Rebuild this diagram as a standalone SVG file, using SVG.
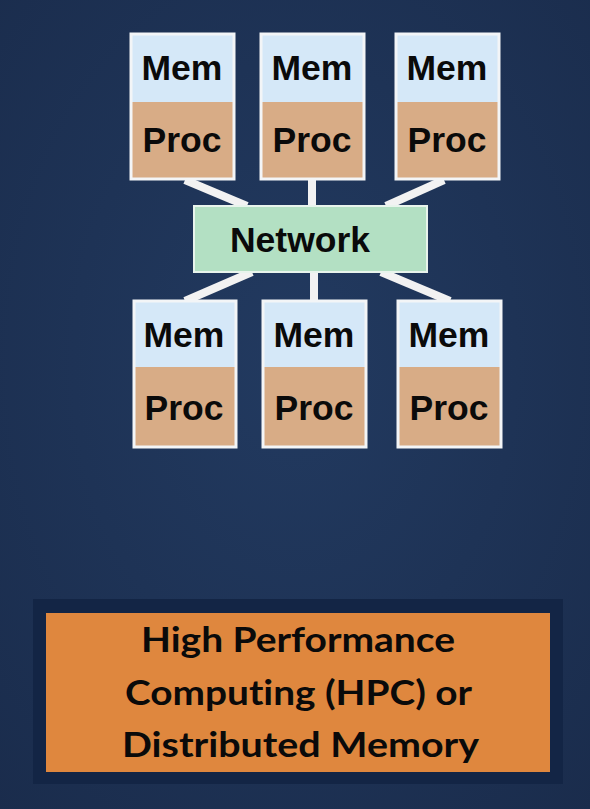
<svg xmlns="http://www.w3.org/2000/svg" width="590" height="809" viewBox="0 0 590 809">
<defs>
<radialGradient id="bg" cx="0.5" cy="0.45" r="0.75">
<stop offset="0" stop-color="#223a60"/>
<stop offset="1" stop-color="#1a2c4c"/>
</radialGradient>
<style>
.mem{fill:#d5e8f8;}
.proc{fill:#d8ac86;}
.frame{fill:none;stroke:#f3f5f7;stroke-width:3;}
.lbl{font-family:"Liberation Sans",Arial,sans-serif;font-weight:bold;font-size:35.5px;fill:#0a0a0a;text-anchor:middle;}
.conn{stroke:#f2f2f2;stroke-width:8;stroke-linecap:butt;}
.big{font-family:Lato,"Open Sans","Liberation Sans",sans-serif;font-weight:bold;font-size:34px;fill:#0a0a0a;text-anchor:middle;font-variant-ligatures:none;font-feature-settings:"liga" 0;}
</style>
</defs>
<rect width="590" height="809" fill="url(#bg)"/>
<g id="connectors">
<line class="conn" x1="185" y1="180" x2="247" y2="206"/>
<line class="conn" x1="312" y1="180" x2="312" y2="206"/>
<line class="conn" x1="444" y1="180" x2="386" y2="206"/>
<line class="conn" x1="252" y1="272" x2="185" y2="301"/>
<line class="conn" x1="314" y1="272" x2="314" y2="301"/>
<line class="conn" x1="381" y1="272" x2="450" y2="301"/>
</g>
<g id="node-top-1">
<rect class="mem" x="131" y="34" width="103" height="68"/>
<rect class="proc" x="131" y="102" width="103" height="77"/>
<rect class="frame" x="131" y="34" width="103" height="145"/>
<text class="lbl" x="182" y="80">Mem</text>
<text class="lbl" x="182" y="152">Proc</text>
</g>
<g id="node-top-2">
<rect class="mem" x="261" y="34" width="103" height="68"/>
<rect class="proc" x="261" y="102" width="103" height="77"/>
<rect class="frame" x="261" y="34" width="103" height="145"/>
<text class="lbl" x="312" y="80">Mem</text>
<text class="lbl" x="312" y="152">Proc</text>
</g>
<g id="node-top-3">
<rect class="mem" x="396" y="34" width="103" height="68"/>
<rect class="proc" x="396" y="102" width="103" height="77"/>
<rect class="frame" x="396" y="34" width="103" height="145"/>
<text class="lbl" x="447" y="80">Mem</text>
<text class="lbl" x="447" y="152">Proc</text>
</g>
<g id="network">
<rect x="194" y="206" width="233" height="66" fill="#b3e0c3" stroke="#e8f4ec" stroke-width="2"/>
<text class="lbl" x="300" y="252">Network</text>
</g>
<g id="node-bottom-1">
<rect class="mem" x="134" y="301" width="102" height="66"/>
<rect class="proc" x="134" y="367" width="102" height="80"/>
<rect class="frame" x="134" y="301" width="102" height="146"/>
<text class="lbl" x="184" y="347">Mem</text>
<text class="lbl" x="184" y="420">Proc</text>
</g>
<g id="node-bottom-2">
<rect class="mem" x="263" y="301" width="103" height="66"/>
<rect class="proc" x="263" y="367" width="103" height="80"/>
<rect class="frame" x="263" y="301" width="103" height="146"/>
<text class="lbl" x="314" y="347">Mem</text>
<text class="lbl" x="314" y="420">Proc</text>
</g>
<g id="node-bottom-3">
<rect class="mem" x="398" y="301" width="103" height="66"/>
<rect class="proc" x="398" y="367" width="103" height="80"/>
<rect class="frame" x="398" y="301" width="103" height="146"/>
<text class="lbl" x="449" y="347">Mem</text>
<text class="lbl" x="449" y="420">Proc</text>
</g>
<g id="hpc-label">
<rect x="33" y="599" width="530" height="185" fill="#132545"/>
<rect x="46" y="613" width="504" height="159" fill="#df873e"/>
<text class="big" x="298" y="652" textLength="314" lengthAdjust="spacingAndGlyphs">High Performance</text>
<text class="big" x="298.5" y="705" textLength="347" lengthAdjust="spacingAndGlyphs">Computing (HPC) or</text>
<text class="big" x="300.5" y="757" textLength="357" lengthAdjust="spacingAndGlyphs">Distributed Memory</text>
</g>
</svg>
